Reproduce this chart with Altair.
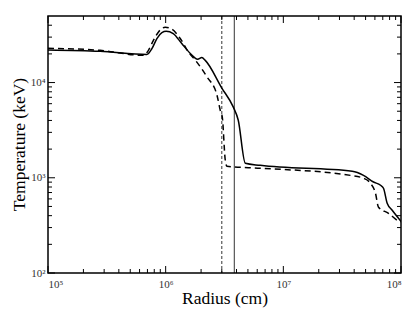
import altair as alt
import pandas as pd

# Solid curve (radius cm, temperature keV)
solid_r = [1.0e5, 2.77e5, 6.92e5, 7.64e5, 8.42e5, 9.29e5, 1.01e6, 1.16e6, 1.37e6, 1.62e6,
           1.87e6, 2.03e6, 2.17e6, 3.01e6, 3.75e6, 4.14e6, 4.75e6, 6.37e6, 3.85e7, 4.80e7,
           5.84e7, 6.70e7, 7.10e7, 7.63e7, 8.42e7, 1.0e8]
solid_t = [22000, 21300, 19700, 22700, 29000, 33500, 34600, 32700, 25700, 20200,
           17600, 18300, 17100, 8710, 5550, 4020, 1420, 1350, 1170, 1060,
           903, 834, 776, 540, 456, 349]

# Dashed curve
dash_r = [1.0e5, 2.77e5, 6.47e5, 7.14e5, 7.87e5, 8.69e5, 9.91e5, 1.13e6, 1.33e6, 1.56e6,
          1.82e6, 2.24e6, 2.73e6, 2.91e6, 3.03e6, 3.21e6, 3.32e6, 6.37e6, 3.72e7, 4.80e7,
          5.50e7, 6.07e7, 6.44e7, 7.83e7, 9.52e7, 1.0e8]
dash_t = [22900, 21800, 19300, 21800, 27800, 34000, 38100, 36300, 29000, 20900,
          16700, 11500, 7370, 5120, 4320, 1530, 1320, 1260, 1060, 988,
          875, 687, 490, 424, 352, 345]

# Vertical marker lines
vline_dashed = [3.0e6]
vline_solid = [3.83e6]

x_major = [1e5, 1e6, 1e7, 1e8]
y_major = [1e2, 1e3, 1e4]
x_minor = [m * d for d in [1e5, 1e6, 1e7] for m in range(2, 10)]
y_minor = [m * d for d in [1e2, 1e3] for m in range(2, 10)] + [2e4, 3e4, 4e4]

W, H = 353, 257
FONT = "Liberation Serif, Times New Roman, serif"
xs = alt.Scale(type="log", domain=[1e5, 1e8], nice=False)
ys = alt.Scale(type="log", domain=[100, 50000], nice=False)

sup = "'10' + ['⁰','¹','²','³','⁴','⁵','⁶','⁷','⁸','⁹'][round(log(datum.value)/LN10)]"

df_s = pd.DataFrame({"r": solid_r, "t": solid_t})
df_d = pd.DataFrame({"r": dash_r, "t": dash_t})

base_x = alt.X("r:Q", scale=xs, title="Radius (cm)",
               axis=alt.Axis(values=x_major, labelExpr=sup, ticks=False, domain=False,
                             grid=False, labelPadding=5, titleY=30,
                             titleBaseline="alphabetic"))
base_y = alt.Y("t:Q", scale=ys, title="Temperature (keV)",
               axis=alt.Axis(values=y_major, labelExpr=sup, ticks=False, domain=False,
                             grid=False, labelPadding=3, titleX=-24, titleY=128,
                             titleBaseline="alphabetic", titleAlign="center",
                             titleAngle=270))

solid = alt.Chart(df_s).mark_line(color="black", strokeWidth=1.5, clip=True,
                                  interpolate="monotone").encode(x=base_x, y=base_y)
dashed = alt.Chart(df_d).mark_line(color="black", strokeWidth=1.5, strokeDash=[6, 4],
                                   clip=True, interpolate="monotone").encode(x="r:Q", y="t:Q")

v1 = alt.Chart(pd.DataFrame({"r": vline_dashed})).mark_rule(
    color="black", strokeWidth=0.8, strokeDash=[3, 2]).encode(x="r:Q")
v2 = alt.Chart(pd.DataFrame({"r": vline_solid})).mark_rule(
    color="black", strokeWidth=0.8).encode(x="r:Q")

def xticks(vals, length):
    d = pd.DataFrame({"r": vals})
    b = alt.Chart(d).mark_rule(color="black", strokeWidth=1).encode(
        x="r:Q", y=alt.value(H), y2=alt.value(H - length))
    t = alt.Chart(d).mark_rule(color="black", strokeWidth=1).encode(
        x="r:Q", y=alt.value(0), y2=alt.value(length))
    return b + t

def yticks(vals, length):
    d = pd.DataFrame({"t": vals})
    l = alt.Chart(d).mark_rule(color="black", strokeWidth=1).encode(
        y="t:Q", x=alt.value(0), x2=alt.value(length))
    r = alt.Chart(d).mark_rule(color="black", strokeWidth=1).encode(
        y="t:Q", x=alt.value(W), x2=alt.value(W - length))
    return l + r

chart = alt.layer(
    solid, dashed, v1, v2,
    xticks(x_major, 7), xticks(x_minor, 4),
    yticks(y_major, 7), yticks(y_minor, 4),
).properties(
    width=W, height=H,
    autosize=alt.AutoSizeParams(type="none"),
    padding={"left": 40, "top": 8, "right": 6, "bottom": 40},
).configure(
    font=FONT
).configure_view(
    stroke="black", strokeWidth=1.5
).configure_axis(
    labelFont=FONT, titleFont=FONT,
    labelFontSize=11, titleFontSize=17.5, titleFontWeight="normal",
    labelColor="#333333", titleColor="black",
)

chart.save("out.html", embed_options={"renderer": "svg", "actions": False})
